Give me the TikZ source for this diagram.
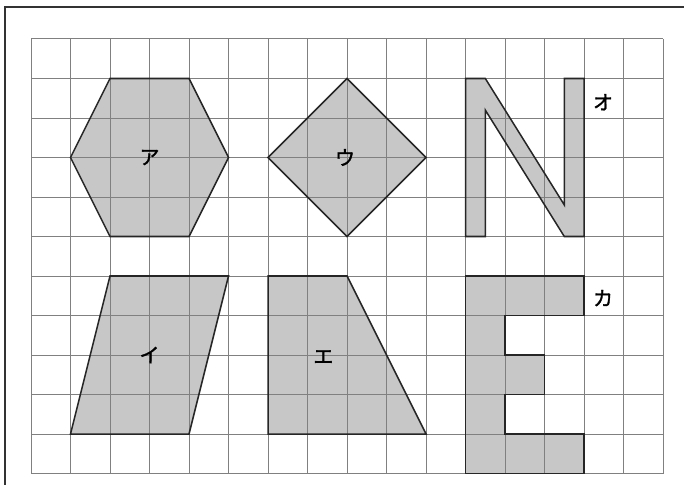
\documentclass[tikz,border=0pt]{standalone}
\usepackage{fontspec}
\newfontfamily\jpfont[FakeBold=1.5]{Noto Sans CJK JP}

\tikzset{
	figur/.style={fill=black!22},
	umriss/.style={draw=black!85,line width=1.1pt,line join=miter},
	kana/.style={font=\jpfont\Large,inner sep=0pt},
}

\begin{document}
\begin{tikzpicture}[line width=0.7pt]
\useasboundingbox (-0.785,-0.29) rectangle (16.53,11.987);

% Rahmen (nur oben und links sichtbar)
\draw[black!80,line width=1.4pt] (-0.67,-0.29) -- (-0.67,11.81) -- (16.53,11.81);

\def\sechseck{(2,10) -- (4,10) -- (5,8) -- (4,6) -- (2,6) -- (1,8) -- cycle}
\def\raute{(8,10) -- (10,8) -- (8,6) -- (6,8) -- cycle}
\def\buchN{(11,6) -- (11,10) -- (11.5,10) -- (13.5,6.8) -- (13.5,10) -- (14,10)
	-- (14,6) -- (13.5,6) -- (11.5,9.2) -- (11.5,6) -- cycle}
\def\parallelo{(2,5) -- (5,5) -- (4,1) -- (1,1) -- cycle}
\def\trapez{(6,5) -- (8,5) -- (10,1) -- (6,1) -- cycle}
\def\buchE{(11,5) -- (14,5) -- (14,4) -- (12,4) -- (12,3) -- (13,3) -- (13,2)
	-- (12,2) -- (12,1) -- (14,1) -- (14,0) -- (11,0) -- cycle}

\fill[figur] \sechseck;
\fill[figur] \raute;
\fill[figur] \buchN;
\fill[figur] \parallelo;
\fill[figur] \trapez;
\fill[figur] \buchE;

\foreach \x in {0,...,16}{
	\draw[color=black!50] (\x,0) -- (\x,11);
}
\foreach \y in {0,...,11}{
	\draw[color=black!50] (0,\y) -- (16,\y);
}

\draw[umriss] \sechseck;
\draw[umriss] \raute;
\draw[umriss] \buchN;
\draw[umriss] \parallelo;
\draw[umriss] \trapez;
\draw[umriss] \buchE;

\node[kana] (a) at (3,8) {ア};
\node[kana] (i) at (3,3) {イ};
\node[kana] (u) at (7.95,8) {ウ};
\node[kana] (e) at (7.4,2.95) {エ};
\node[kana] (o) at (14.48,9.4) {オ};
\node[kana] (ka) at (14.48,4.44) {カ};

\end{tikzpicture}
\end{document}
